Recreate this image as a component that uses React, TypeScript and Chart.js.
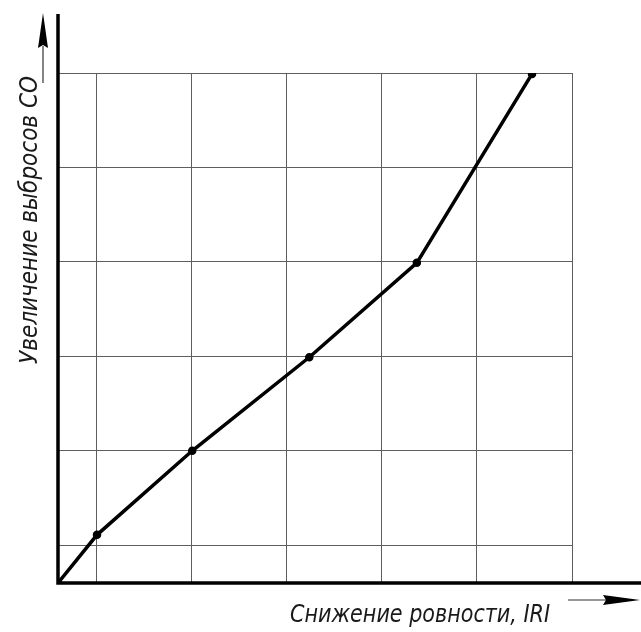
import React, { useEffect, useRef } from "react";
import { Chart, registerables } from "chart.js";

Chart.register(...registerables);

// Data (in grid units)
const XS = [0, 0.41, 1.41, 2.64, 3.77, 4.98];
const YS = [0, 0.51, 1.4, 2.39, 3.39, 5.39];
const X_GRID = [0.4, 1.4, 2.4, 3.4, 4.4, 5.4];
const Y_GRID = [0.4, 1.4, 2.4, 3.4, 4.4, 5.4];
const X_TITLE = "Снижение ровности, IRI";
const Y_TITLE = "Увеличение выбросов СО";

const FONT_FAMILY = '"Liberation Sans Narrow", "DejaVu Sans Condensed", "Noto Sans", sans-serif';

const decorPlugin = {
  id: "decor",
  beforeDatasetsDraw(chart: any) {
    const { ctx, chartArea } = chart;
    const { left, bottom } = chartArea;
    const W = chart.width;
    ctx.save();
    ctx.strokeStyle = "#000";
    ctx.lineWidth = 3.5;
    ctx.lineCap = "butt";
    ctx.beginPath();
    ctx.moveTo(left, 14);
    ctx.lineTo(left, bottom + 1.75);
    ctx.moveTo(left - 1.75, bottom);
    ctx.lineTo(W, bottom);
    ctx.stroke();
    ctx.restore();
  },
  afterDraw(chart: any) {
    const { ctx, chartArea } = chart;
    const { left, bottom } = chartArea;
    ctx.save();
    // Y arrow
    const ax = left - 15;
    ctx.strokeStyle = "#333";
    ctx.lineWidth = 1.2;
    ctx.beginPath();
    ctx.moveTo(ax, 83);
    ctx.lineTo(ax, 46);
    ctx.stroke();
    ctx.fillStyle = "#000";
    ctx.beginPath();
    ctx.moveTo(ax, 13);
    ctx.lineTo(ax + 5, 48);
    ctx.lineTo(ax, 45);
    ctx.lineTo(ax - 5, 48);
    ctx.closePath();
    ctx.fill();
    // X arrow
    const ay = bottom + 17;
    ctx.beginPath();
    ctx.moveTo(568, ay);
    ctx.lineTo(606, ay);
    ctx.stroke();
    ctx.beginPath();
    ctx.moveTo(640, ay);
    ctx.lineTo(603, ay - 5);
    ctx.lineTo(606, ay);
    ctx.lineTo(603, ay + 5);
    ctx.closePath();
    ctx.fill();

    // Titles
    ctx.fillStyle = "#1a1a1a";
    ctx.textBaseline = "alphabetic";
    ctx.textAlign = "left";
    ctx.font = `italic 24px ${FONT_FAMILY}`;
    let w = ctx.measureText(X_TITLE).width;
    ctx.save();
    ctx.translate(290, 622);
    ctx.scale(260 / w, 1);
    ctx.fillText(X_TITLE, 0, 0);
    ctx.restore();

    ctx.font = `italic 24px ${FONT_FAMILY}`;
    w = ctx.measureText(Y_TITLE).width;
    ctx.save();
    ctx.translate(37, 364);
    ctx.rotate(-Math.PI / 2);
    ctx.scale(288 / w, 1);
    ctx.fillText(Y_TITLE, 0, 0);
    ctx.restore();
    ctx.restore();
  },
};

export default function App() {
  const ref = useRef<HTMLCanvasElement | null>(null);
  useEffect(() => {
    if (!ref.current) return;
    const gridOpts = {
      color: "#5e5e5e",
      lineWidth: 1,
      drawTicks: false,
    };
    const chart = new Chart(ref.current, {
      type: "scatter",
      data: {
        datasets: [
          {
            data: XS.map((x, i) => ({ x, y: YS[i] })),
            showLine: true,
            borderColor: "#000",
            borderWidth: 3.5,
            pointRadius: 2.5,
            pointBackgroundColor: "#000",
            pointBorderColor: "#000",
            tension: 0,
          },
        ],
      },
      options: {
        animation: false,
        responsive: false,
        devicePixelRatio: 1,
        layout: { padding: { left: 58, right: 69, top: 73, bottom: 49 } },
        plugins: { legend: { display: false }, tooltip: { enabled: false } },
        scales: {
          x: {
            type: "linear",
            min: 0,
            max: 5.4,
            afterBuildTicks: (s: any) => {
              s.ticks = X_GRID.map((v) => ({ value: v }));
            },
            ticks: { display: false },
            grid: gridOpts,
            border: { display: false },
          },
          y: {
            type: "linear",
            min: 0,
            max: 5.4,
            afterBuildTicks: (s: any) => {
              s.ticks = Y_GRID.map((v) => ({ value: v }));
            },
            ticks: { display: false },
            grid: gridOpts,
            border: { display: false },
          },
        },
      },
      plugins: [decorPlugin],
    });
    return () => chart.destroy();
  }, []);
  return (
    <div style={{ position: "absolute", left: 0, top: 0, width: 641, height: 632, background: "#fff" }}>
      <canvas ref={ref} width={641} height={632} />
    </div>
  );
}
